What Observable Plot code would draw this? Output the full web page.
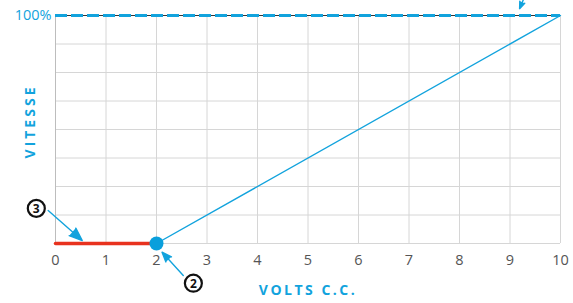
<!DOCTYPE html>
<html><head><meta charset="utf-8">
<script src="https://cdn.jsdelivr.net/npm/d3@7"></script>
<script src="https://cdn.jsdelivr.net/npm/@observablehq/plot@0.6"></script>
<style>
body{margin:0;background:#fff;}
svg{overflow:visible;}
</style></head>
<body><div id="chart"></div>
<script>
const xTicks = [0,1,2,3,4,5,6,7,8,9,10];
const yGrid = [0,12.5,25,37.5,50,62.5,75,87.5,100];
const yTicks = [100];
const deadX = [0,2];
const deadY = [0,0];
const rampX = [2,10];
const rampY = [0,100];
const startPoint = [{x:2,y:0}];
const labels = ["3","2"];
const labelX = [-0.38, 2.73];
const labelY = [15.4, -17.4];
const arrowX1 = [-0.145, 2.53, 9.36];
const arrowY1 = [14.5, -14.0, 112];
const arrowX2 = [0.53, 2.11, 9.19];
const arrowY2 = [1.3, -3.8, 103];

const blue = "#12a3dd";
const font = "'Open Sans', sans-serif";

const dead = deadX.map((x,i)=>({x, y:deadY[i]}));
const ramp = rampX.map((x,i)=>({x, y:rampY[i]}));
const callouts = labels.map((t,i)=>({t, x:labelX[i], y:labelY[i]}));
const arrows = arrowX1.map((x1,i)=>({x1, y1:arrowY1[i], x2:arrowX2[i], y2:arrowY2[i]}));

const chart = Plot.plot({
  width: 573, height: 303,
  marginLeft: 55, marginRight: 13, marginTop: 15, marginBottom: 60,
  style: {fontFamily: font, background: "#fff"},
  x: {domain: [0,10]},
  y: {domain: [0,100]},
  marks: [
    Plot.gridX(xTicks, {stroke: "#d6d6d6", strokeOpacity: 1}),
    Plot.gridY(yGrid, {stroke: "#d6d6d6", strokeOpacity: 1}),
    Plot.ruleX([0], {stroke: "#bdbdbd"}),
    Plot.axisX(xTicks, {tickSize: 0, tickPadding: 11, fontSize: 14.5, fill: "#555", label: null, tickFormat: d=>String(d)}),
    Plot.axisY(yTicks, {tickSize: 0, tickPadding: 4, fontSize: 14.5, fill: blue, label: null, tickFormat: d=>d+"%"}),
    Plot.ruleY([100], {stroke: "#333", strokeWidth: 1.2}),
    Plot.ruleY([100], {stroke: blue, strokeWidth: 2.8, strokeDasharray: "12,4"}),
    Plot.line(ramp, {x:"x", y:"y", stroke: blue, strokeWidth: 1.4}),
    Plot.line(dead, {x:"x", y:"y", stroke: "#e8321e", strokeWidth: 3.5}),
    Plot.dot(startPoint, {x:"x", y:"y", r: 7, fill: "#0a9fdc", stroke: "none"}),
    Plot.arrow(arrows, {x1:"x1", y1:"y1", x2:"x2", y2:"y2", stroke: blue, strokeWidth: 1.4, headLength: 15, headAngle: 42, bend: 0, className: "callarrow"}),
    Plot.dot(callouts, {x:"x", y:"y", r: 8.5, fill: "#fff", stroke: "#111", strokeWidth: 2.2}),
    Plot.text(callouts, {x:"x", y:"y", text:"t", fontSize: 12, fontWeight: "bold", fill: "#111", dy: 0.5}),
    Plot.text(["VOLTS C.C."], {frameAnchor: "bottom", dy: 51, fontSize: 14, fontWeight: "bold", fill: blue, className: "spacedx"}),
    Plot.text(["VITESSE"], {frameAnchor: "left", textAnchor: "middle", dx: -25, dy: -8, rotate: -90, fontSize: 14, fontWeight: "bold", fill: blue, className: "spacedy"})
  ]
});
d3.select(chart).selectAll(".spacedx text").style("letter-spacing", "2.5px");
d3.select(chart).selectAll(".spacedy text").style("letter-spacing", "3px");
d3.select(chart).selectAll(".callarrow path").attr("fill", blue).attr("stroke-linejoin", "miter");
document.getElementById("chart").appendChild(chart);
</script>
</body></html>
